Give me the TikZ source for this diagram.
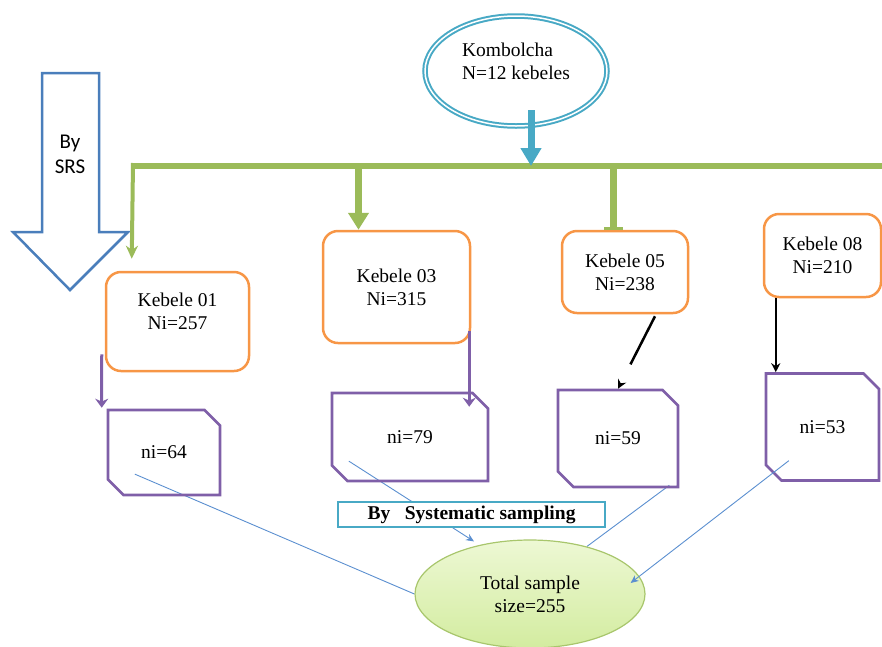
\documentclass[tikz,border=0pt]{standalone}
\usepackage{fontspec}
\setmainfont{Liberation Serif}
\newfontfamily\srsfont{Carlito}
\usetikzlibrary{shapes.geometric,shapes.misc,arrows.meta,calc,backgrounds}

\definecolor{kebOrange}{HTML}{F79646}
\definecolor{smpPurple}{HTML}{7F5FA8}
\definecolor{barGreen}{HTML}{9BBB59}
\definecolor{kombTeal}{HTML}{48A9C5}
\definecolor{srsBlue}{HTML}{4A7EBB}
\definecolor{lineBlue}{HTML}{5B8FD0}
\definecolor{totTop}{HTML}{EDF8D4}
\definecolor{totBottom}{HTML}{D3ECA0}
\definecolor{totEdge}{HTML}{A8C66C}

\begin{document}
\begin{tikzpicture}[x=1pt,y=-1pt,
  txt/.style={font=\fontsize{19.5}{23}\selectfont},
  kebeleBox/.style={txt,draw=kebOrange,line width=2.5pt,rounded corners=15pt,align=center,inner sep=0pt},
  sampleBox/.style={txt,draw=smpPurple,line width=2.6pt,chamfered rectangle,
    chamfered rectangle corners={north east,south west},
    chamfered rectangle xsep=9pt,chamfered rectangle ysep=9pt,inner sep=0pt},
  greenThin/.style={draw=barGreen,line width=4pt,-{Stealth[length=13pt,width=12pt]}},
  greenThick/.style={draw=barGreen,line width=7pt,-{Triangle[length=17pt,width=20pt]}},
  greenTee/.style={draw=barGreen,line width=7pt,-{Bar[width=19pt,line width=3pt]}},
  purpleArrow/.style={draw=smpPurple,line width=3pt,-{Stealth[length=9pt,width=13pt]}},
  blackArrow/.style={draw=black,line width=2.5pt,-{Stealth[length=9pt,width=9pt]}},
  thinBlue/.style={draw=lineBlue,line width=0.9pt},
  thinArrow/.style={thinBlue,-{Stealth[length=8pt,width=7pt]}}
]
  \useasboundingbox (0,0) rectangle (882,646);

  % --- Left: SRS arrow ---
  \draw[srsBlue,line width=2.5pt,line join=miter]
    (42,73) -- (99,73) -- (99,232) -- (128,232) -- (70,290)
    -- (13,232) -- (42,232) -- cycle;
  \node[font=\srsfont\fontsize{21}{25}\selectfont,align=center] (srs) at (70,154) {By\\SRS};

  % --- Town and the kebele bar ---
  \node[txt,ellipse,draw=kombTeal,line width=2pt,double=white,double distance=1.5pt,
    minimum width=182pt,minimum height=110pt,align=left,text depth=20pt] (kom) at (516,71)
    {Kombolcha\\N=12 kebeles};
  \coordinate (barW) at (133,166);
  \coordinate (barE) at (882,166);
  \coordinate (gk) at (531,166);
  \coordinate (g03) at (358.5,166);
  \coordinate (g05) at (613,166);
  \draw[barGreen,line width=6pt] (barW) -- (barE);
  \draw[kombTeal,line width=7pt,-{Triangle[length=18pt,width=20pt]}]
    ($(gk |- kom.south)+(0,-17)$) -- (gk);

  % Kebeles
  \node[kebeleBox,minimum width=143pt,minimum height=99pt,text depth=20pt] (k01) at (177.5,321.5) {Kebele 01\\Ni=257};
  \node[kebeleBox,minimum width=147pt,minimum height=112pt] (k03) at (396.5,287) {Kebele 03\\Ni=315};
  \node[kebeleBox,minimum width=126pt,minimum height=82pt] (k05) at (625,272) {Kebele 05\\Ni=238};
  \node[kebeleBox,minimum width=117pt,minimum height=83pt] (k08) at (822.5,255.5) {Kebele 08\\Ni=210};

  \draw[greenThin] ([yshift=3pt]barW) -- ([xshift=27pt,yshift=12pt]k01.north west);
  \draw[greenThick] (g03) -- (g03 |- k03.north);
  \draw[greenTee] (g05) -- (g05 |- k05.north);

  % Samples per kebele
  \node[sampleBox,minimum width=112pt,minimum height=85pt] (n64) at (164,452.5) {ni=64};
  \node[sampleBox,minimum width=156pt,minimum height=88pt] (n79) at (410,437) {ni=79};
  \node[sampleBox,minimum width=120pt,minimum height=97pt] (n59) at (618,438.5) {ni=59};
  \node[sampleBox,minimum width=113pt,minimum height=107pt] (n53) at (822.5,427) {ni=53};

  \draw[purpleArrow] ([xshift=-3pt,yshift=18pt]k01.south west) -- ([xshift=-5pt,yshift=1pt]n64.north west);
  \draw[purpleArrow] ($(k03.south east)+(-2,-13)$) coordinate (p03) -- ($(p03 |- n79.north)+(0,15)$);
  \draw[blackArrow,dash pattern=on 54pt off 60pt] ([xshift=30pt,yshift=-2pt]k05.south) -- (n59.north);
  \draw[blackArrow] ([xshift=13pt]k08.south west) coordinate (p08) -- (p08 |- n53.north);

  % --- Bottom: total ---
  \node[txt,fill=white,inner sep=0pt,minimum width=267pt,minimum height=25pt,
    draw=kombTeal,line width=2.5pt,font=\fontsize{19.5}{23}\selectfont\bfseries] (sys) at (471.5,514.5)
    {By\ \ \ Systematic sampling};
  \node[txt,ellipse,draw=totEdge,line width=1.2pt,top color=totTop,bottom color=totBottom,
    minimum width=230pt,minimum height=108pt,align=center] (tot) at (530,594)
    {Total sample\\size=255};

  \begin{pgfonlayer}{background}
    \draw[thinBlue] ([xshift=20pt,yshift=14pt]n64.south west) -- (tot.west);
    \draw[thinArrow] ([xshift=10pt,yshift=13pt]n79.south west) -- ([xshift=-56pt,yshift=-2pt]tot.north);
    \draw[thinBlue] ([xshift=-10pt,yshift=3pt]n59.south east) -- ([xshift=57pt,yshift=-7pt]tot.north);
  \end{pgfonlayer}
  \draw[thinArrow] ([xshift=16pt,yshift=13pt]n53.south west) -- ([xshift=-15pt,yshift=11pt]tot.east);
\end{tikzpicture}
\end{document}
